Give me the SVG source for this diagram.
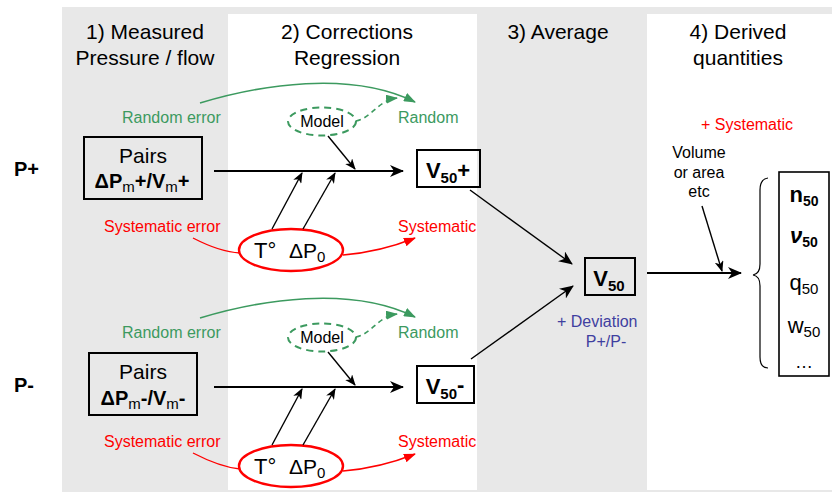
<svg xmlns="http://www.w3.org/2000/svg" width="832" height="492" viewBox="0 0 832 492">
<defs>
<marker id="ak" markerUnits="userSpaceOnUse" markerWidth="14" markerHeight="12" refX="13" refY="6" orient="auto"><path d="M0,0 L14,6 L0,12 L4,6 z" fill="#000"/></marker>
<marker id="aks" markerUnits="userSpaceOnUse" markerWidth="11" markerHeight="9" refX="10" refY="4.5" orient="auto"><path d="M0,0 L11,4.5 L0,9 L3,4.5 z" fill="#000"/></marker>
<marker id="ag" markerUnits="userSpaceOnUse" markerWidth="12" markerHeight="9" refX="11" refY="4.5" orient="auto"><path d="M0,0 L12,4.5 L0,9 z" fill="#3c9a5f"/></marker>
<marker id="ar" markerUnits="userSpaceOnUse" markerWidth="12" markerHeight="9" refX="11" refY="4.5" orient="auto"><path d="M0,0 L12,4.5 L0,9 z" fill="#ff0000"/></marker>
</defs>
<style>
text{font-family:"Liberation Sans",Arial,sans-serif;}
.hd{font-size:21px;fill:#000;text-anchor:middle;}
.box{fill:none;stroke:#000;stroke-width:2;}
.pl{font-size:20px;font-weight:bold;}
.g{fill:#3c9a5f;font-size:16px;}
.r{fill:#ff0000;font-size:16px;}
.bl{fill:#3f3fa0;font-size:16px;}
.vol{font-size:16px;text-anchor:middle;}
.main{stroke:#000;stroke-width:2.2;fill:none;}
.thin{stroke:#000;stroke-width:1.4;fill:none;}
.gc{stroke:#3c9a5f;stroke-width:1.6;fill:none;}
.gd{stroke:#3c9a5f;stroke-width:1.6;fill:none;stroke-dasharray:5,4;}
.gell{stroke:#3c9a5f;stroke-width:2;fill:none;stroke-dasharray:7,5;}
.rc{stroke:#ff0000;stroke-width:1.4;fill:none;}
.rell{stroke:#ff0000;stroke-width:2.4;fill:none;}
</style>
<rect x="62" y="7" width="770" height="485" fill="#e8e8e8"/>
<rect x="228" y="14" width="249" height="476" fill="#ffffff"/>
<rect x="647" y="14" width="185" height="476" fill="#ffffff"/>

<g id="headers">
<text class="hd" x="145" y="39">1) Measured</text>
<text class="hd" x="145" y="65">Pressure / flow</text>
<text class="hd" x="347" y="39">2) Corrections</text>
<text class="hd" x="347" y="65">Regression</text>
<text class="hd" x="558" y="39">3) Average</text>
<text class="hd" x="738" y="39">4) Derived</text>
<text class="hd" x="738" y="65">quantities</text>
</g>

<g id="labels">
<text class="pl" x="14" y="176">P+</text>
<text class="pl" x="14" y="392">P-</text>
<text class="g" x="122" y="123">Random error</text>
<text class="g" x="398" y="123">Random</text>
<text class="r" x="104" y="232">Systematic error</text>
<text class="r" x="398" y="232">Systematic</text>
<text class="g" x="122" y="338">Random error</text>
<text class="g" x="398" y="338">Random</text>
<text class="r" x="104" y="447">Systematic error</text>
<text class="r" x="398" y="447">Systematic</text>
<text class="bl" x="557" y="327">+ Deviation</text>
<text class="bl" x="606" y="347" text-anchor="middle">P+/P-</text>
<text class="r" x="747" y="130" text-anchor="middle">+ Systematic</text>
<text class="vol" x="699" y="158">Volume</text>
<text class="vol" x="699" y="178">or area</text>
<text class="vol" x="699" y="197">etc</text>
</g>

<g id="pairs-plus">
<rect class="box" x="84" y="137" width="118" height="62"/>
<text x="143" y="163" font-size="21" text-anchor="middle">Pairs</text>
<text x="142" y="188" font-size="20" font-weight="bold" text-anchor="middle">ΔP<tspan font-size="15" font-weight="normal" dy="4">m</tspan><tspan dy="-4">+/V</tspan><tspan font-size="15" font-weight="normal" dy="4">m</tspan><tspan dy="-4">+</tspan></text>
</g>
<g id="pairs-minus">
<rect class="box" x="89" y="353" width="108" height="62"/>
<text x="143" y="379" font-size="21" text-anchor="middle">Pairs</text>
<text x="143" y="405" font-size="20" font-weight="bold" text-anchor="middle">ΔP<tspan font-size="15" font-weight="normal" dy="4">m</tspan><tspan dy="-4">-/V</tspan><tspan font-size="15" font-weight="normal" dy="4">m</tspan><tspan dy="-4">-</tspan></text>
</g>

<g id="model-plus">
<ellipse class="gell" cx="322" cy="121.5" rx="34" ry="14"/>
<text x="322" y="127" font-size="16" text-anchor="middle">Model</text>
</g>
<g id="model-minus">
<ellipse class="gell" cx="322" cy="337.5" rx="34" ry="14"/>
<text x="322" y="343" font-size="16" text-anchor="middle">Model</text>
</g>

<g id="sys-plus">
<ellipse class="rell" cx="291" cy="250" rx="52" ry="21"/>
<text x="254" y="258" font-size="22">T°</text>
<text x="289" y="258" font-size="21">ΔP<tspan font-size="15" dy="4">0</tspan></text>
</g>
<g id="sys-minus">
<ellipse class="rell" cx="291" cy="466" rx="52" ry="21"/>
<text x="254" y="474" font-size="22">T°</text>
<text x="289" y="474" font-size="21">ΔP<tspan font-size="15" dy="4">0</tspan></text>
</g>

<g id="v50-plus">
<rect class="box" x="417" y="150" width="63" height="37"/>
<text x="448" y="178" font-size="22" font-weight="bold" text-anchor="middle">V<tspan font-size="15" dy="5">50</tspan><tspan dy="-5">+</tspan></text>
</g>
<g id="v50-minus">
<rect class="box" x="417" y="366" width="57" height="37"/>
<text x="445" y="394" font-size="22" font-weight="bold" text-anchor="middle">V<tspan font-size="15" dy="5">50</tspan><tspan dy="-7">-</tspan></text>
</g>
<g id="v50">
<rect class="box" x="585" y="258" width="50" height="37"/>
<text x="609" y="286" font-size="22" font-weight="bold" text-anchor="middle">V<tspan font-size="15" dy="5">50</tspan></text>
</g>

<g id="derived">
<path d="M768,178 Q760,179 760,190 L760,264 Q760,274 753,275 Q760,276 760,286 L760,357 Q760,368 768,368" fill="none" stroke="#000" stroke-width="1.2"/>
<rect x="779" y="172" width="50" height="204" fill="#fff" stroke="#000" stroke-width="1.6"/>
<text x="804" y="202" font-size="22" font-weight="bold" text-anchor="middle">n<tspan font-size="14" dy="4">50</tspan></text>
<text x="804" y="243" font-size="22" font-weight="bold" font-style="italic" text-anchor="middle">ν<tspan font-size="14" font-style="normal" dy="4">50</tspan></text>
<text x="804" y="290" font-size="22" text-anchor="middle">q<tspan font-size="15" dy="4">50</tspan></text>
<text x="804" y="333" font-size="22" text-anchor="middle">w<tspan font-size="15" dy="4">50</tspan></text>
<text x="804" y="368" font-size="18" text-anchor="middle">…</text>
</g>

<g id="connectors">
<path class="gc" d="M200,103 C260,85 350,70 415,102" marker-end="url(#ag)"/>
<path class="gd" d="M356,121 C372,118 378,100 397,98" marker-end="url(#ag)"/>
<path class="rc" d="M193,238 Q220,252 240,253"/>
<path class="rc" d="M343,255 Q380,252 415,238" marker-end="url(#ar)"/>
<line class="main" x1="214" y1="171" x2="403" y2="171" marker-end="url(#ak)"/>
<line class="thin" x1="328" y1="136" x2="355" y2="169" marker-end="url(#aks)"/>
<line class="thin" x1="272" y1="229" x2="302" y2="173" marker-end="url(#aks)"/>
<line class="thin" x1="303" y1="229" x2="335" y2="173" marker-end="url(#aks)"/>

<path class="gc" d="M200,318 C260,300 350,285 415,317" marker-end="url(#ag)"/>
<path class="gd" d="M356,337 C372,334 378,316 397,314" marker-end="url(#ag)"/>
<path class="rc" d="M193,453 Q220,467 240,469"/>
<path class="rc" d="M343,471 Q380,468 415,454" marker-end="url(#ar)"/>
<line class="main" x1="214" y1="387" x2="403" y2="387" marker-end="url(#ak)"/>
<line class="thin" x1="328" y1="352" x2="355" y2="385" marker-end="url(#aks)"/>
<line class="thin" x1="272" y1="445" x2="302" y2="389" marker-end="url(#aks)"/>
<line class="thin" x1="303" y1="445" x2="335" y2="389" marker-end="url(#aks)"/>

<line class="thin" x1="470" y1="190" x2="572" y2="264" marker-end="url(#ak)"/>
<line class="thin" x1="471" y1="359" x2="573" y2="286" marker-end="url(#ak)"/>
<line class="main" x1="647" y1="273" x2="741" y2="273" marker-end="url(#ak)"/>
<line class="thin" x1="702" y1="206" x2="722" y2="271" marker-end="url(#aks)"/>
</g>
</svg>
